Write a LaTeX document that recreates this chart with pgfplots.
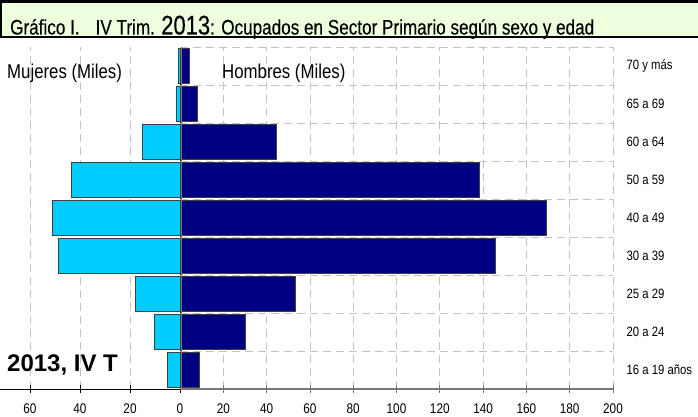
\documentclass[border=0pt]{standalone}
\usepackage{fontspec}
\setmainfont{Liberation Sans}
\newfontfamily\narrow{Liberation Sans}[FakeStretch=0.84]
\newfontfamily\titlefont{Liberation Sans}[FakeStretch=0.815,FakeBold=0.25]
\usepackage{pgfplots}
\pgfplotsset{compat=1.18}
\definecolor{wcol}{RGB}{0,204,255}
\definecolor{mcol}{RGB}{0,0,128}
\definecolor{gridc}{RGB}{195,195,195}
\definecolor{titlebg}{RGB}{238,255,222}
\definecolor{axgray}{RGB}{120,120,120}
\pgfplotsset{pyr/.style={
  scale only axis, height=342pt,
  ymin=-0.5, ymax=8.5,
  bar width=35pt,
  minor ytick={0.5,1.5,...,8.5},
  yminorgrids=true, xmajorgrids=true,
  grid style={gridc, dash pattern=on 8pt off 5pt, line width=0.8pt},
  minor tick length=0pt,
  tick align=center, major tick length=8pt,
  axis x line*=bottom,
  tick label style={font=\narrow\fontsize{14}{15}\selectfont},
  xticklabel style={yshift=-7pt},
}}
\begin{document}
\begin{tikzpicture}
\path[use as bounding box] (0,0) rectangle (698pt,-417pt);
% title box
\draw[line width=2.2pt, fill=titlebg] (1.1pt,-1.6pt) rectangle (712pt,-37pt);
\node[anchor=base west, inner sep=0pt, font=\titlefont\fontsize{21}{24}\selectfont] at (10pt,-34.5pt)
  {Gráfico I.\hspace{16pt}IV Trim. {\fontsize{27}{30}\selectfont 2013}: Ocupados en Sector Primario según sexo y edad};
% women
\begin{axis}[pyr, anchor=north west, at={(0pt,-47pt)}, width=180pt,
  xmin=-72, xmax=0,
  xtick={-60,-40,-20,0}, xticklabels={60,40,20,0},
  ytick=\empty,
  axis y line*=right,
  x axis line style={-, draw=black, line width=0.7pt},
  y axis line style={-, draw=black, line width=0.8pt},
  xtick style={draw=black, line width=0.6pt},
]
\addplot[xbar, fill=wcol, draw=black!75, line width=0.6pt] coordinates {
(-5.2,0) (-10.3,1) (-17.9,2) (-48.7,3) (-50.9,4) (-43.3,5) (-15.2,6) (-1.6,7) (-0.7,8)};
\end{axis}
% men
\begin{axis}[pyr, anchor=north west, at={(180pt,-47pt)}, width=433pt,
  xmin=0, xmax=200,
  xtick={20,40,...,200}, xticklabels={20,40,60,80,100,120,140,160,180,200},
  ytick={0,...,8},
  yticklabels={16 a 19 años,20 a 24,25 a 29,30 a 39,40 a 49,50 a 59,60 a 64,65 a 69,70 y más},
  axis y line*=right,
  y axis line style={draw=none},
  ytick style={draw=none},
  yticklabel style={anchor=west, xshift=6pt, font=\narrow\fontsize{13.5}{15}\selectfont},
  x axis line style={-, draw=axgray, line width=1.2pt},
  xtick style={draw=axgray, line width=0.7pt},
]
\addplot[xbar, fill=mcol, draw=black!75, line width=0.6pt] coordinates {
(8.8,0) (30.3,1) (53.3,2) (145.8,3) (169.4,4) (138.4,5) (44.3,6) (8.2,7) (4.2,8)};
\draw[axgray, line width=0.7pt] ([xshift=1.4pt]axis cs:0,-0.5) -- ([xshift=1.4pt]axis cs:0,8.5);
\end{axis}
\node[anchor=base west, inner sep=0pt, font=\narrow\fontsize{20}{22}\selectfont] at (7pt,-78.3pt) {Mujeres (Miles)};
\node[anchor=base west, inner sep=0pt, font=\narrow\fontsize{20}{22}\selectfont] at (222pt,-78.3pt) {Hombres (Miles)};
\node[anchor=base west, inner sep=0pt, font=\bfseries\fontsize{24}{26}\selectfont] at (7pt,-371.7pt) {2013, IV T};
\end{tikzpicture}
\end{document}
